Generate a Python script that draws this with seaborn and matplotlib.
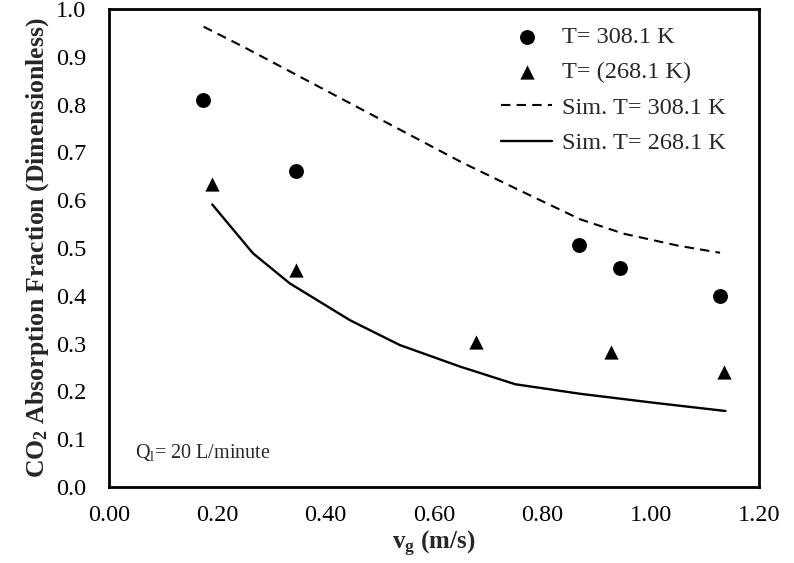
import numpy as np
import pandas as pd
import matplotlib
matplotlib.use('Agg')
import matplotlib.pyplot as plt
import seaborn as sns

# experimental points
vg_308 = [0.173, 0.346, 0.868, 0.943, 1.127]
frac_308 = [0.810, 0.662, 0.506, 0.458, 0.400]
vg_268 = [0.191, 0.345, 0.677, 0.927, 1.136]
frac_268 = [0.634, 0.454, 0.304, 0.283, 0.241]

# simulation curves
sim_vg_308 = [0.175, 0.25, 0.35, 0.45, 0.55, 0.65, 0.75, 0.87, 0.95, 1.05, 1.128]
sim_frac_308 = [0.963, 0.920, 0.860, 0.800, 0.740, 0.680, 0.625, 0.560, 0.530, 0.505, 0.490]
sim_vg_268 = [0.191, 0.266, 0.334, 0.445, 0.537, 0.648, 0.75, 0.87, 1.0, 1.138]
sim_frac_268 = [0.591, 0.489, 0.426, 0.349, 0.297, 0.252, 0.215, 0.195, 0.177, 0.159]

xticks = [0.0, 0.2, 0.4, 0.6, 0.8, 1.0, 1.2]
yticks = [0.0, 0.1, 0.2, 0.3, 0.4, 0.5, 0.6, 0.7, 0.8, 0.9, 1.0]

sns.set_theme(style='white')
plt.rcParams['font.family'] = ['Liberation Serif', 'DejaVu Serif']
plt.rcParams['mathtext.fontset'] = 'custom'
plt.rcParams['mathtext.rm'] = 'Liberation Serif'
plt.rcParams['mathtext.it'] = 'Liberation Serif'
plt.rcParams['mathtext.bf'] = 'Liberation Serif:bold'

fig = plt.figure(figsize=(7.94, 5.63), dpi=100)
ax = fig.add_axes([0.137, 0.135, 0.819, 0.849])

sns.scatterplot(x=vg_308, y=frac_308, marker='o', s=115, color='black',
                edgecolor='black', linewidth=0, label='T= 308.1 K', ax=ax)
sns.scatterplot(x=vg_268, y=frac_268, marker='^', s=105, color='black',
                edgecolor='black', linewidth=0, label='T= (268.1 K)', ax=ax)
sns.lineplot(x=sim_vg_308, y=sim_frac_308, color='black', linewidth=1.5,
             linestyle=(0, (4.5, 3)), label='Sim. T= 308.1 K', ax=ax)
sns.lineplot(x=sim_vg_268, y=sim_frac_268, color='black', linewidth=1.7,
             label='Sim. T= 268.1 K', ax=ax)

ax.set_xlim(0, 1.2)
ax.set_ylim(0, 1.0)
ax.set_xticks(xticks)
ax.set_xticklabels(['%.2f' % v for v in xticks])
ax.set_yticks(yticks)
ax.set_yticklabels(['%.1f' % v for v in yticks])
ax.tick_params(direction='in', length=6, width=0.6, color='#b0b0b0',
               labelsize=17.5, labelcolor='black')
ax.tick_params(axis='x', pad=13)
ax.tick_params(axis='y', pad=16)
for sp in ax.spines.values():
    sp.set_color('black')
    sp.set_linewidth(2)

ax.set_xlabel(r'$\mathbf{v_g}$ (m/s)', fontsize=18, fontweight='bold', labelpad=2)
ax.set_ylabel(r'CO$_\mathbf{2}$ Absorption Fraction (Dimensionless)',
              fontsize=18.5, fontweight='bold', labelpad=4)

ax.text(0.048, 0.06, r'Q$_\mathrm{l}$= 20 L/minute', fontsize=14.5,
        va='baseline')

leg = ax.legend(loc='upper right', frameon=False, fontsize=17.5,
                bbox_to_anchor=(0.975, 1.0), handlelength=2.1,
                labelspacing=0.55, handletextpad=0.4, borderaxespad=0.3)

fig.savefig('out.png', dpi=100)
